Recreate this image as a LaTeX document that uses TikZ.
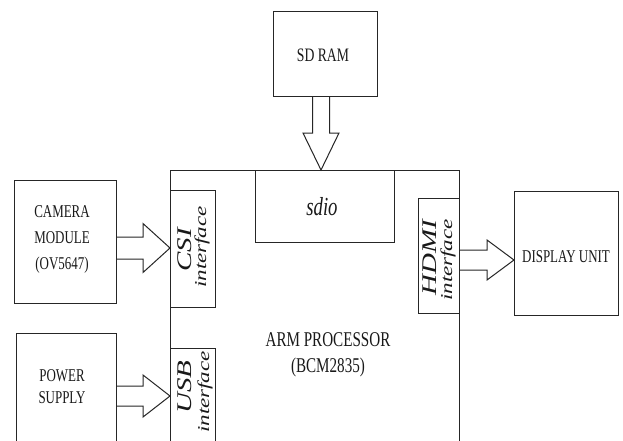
\documentclass[tikz,border=0pt]{standalone}
\usepackage{fontspec}
\setmainfont{Liberation Serif}
\usepackage{graphicx}
\usetikzlibrary{calc}
\newcommand{\hs}[1]{\scalebox{0.72}[1]{#1}}
\newcommand{\rs}[2]{\scalebox{1}[0.72]{\fontsize{#1}{#1}\selectfont\itshape #2}}
\tikzset{
  ln/.style={draw=black!85, line width=1pt, line join=miter},
  blk/.style={ln, fill=white, rectangle, inner sep=0pt, outer sep=0pt, anchor=north west},
  txt/.style={inner sep=0pt, align=center, text=black!90},
}
\begin{document}
\begin{tikzpicture}[x=1pt,y=-1pt]
\useasboundingbox (0,0) rectangle (623,441);
\fill[white] (0,0) rectangle (623,441);

% main processor box (bottom beyond page)
\node[blk, minimum width=289pt, minimum height=320pt] (arm) at (170,170) {};
% sub blocks
\node[blk, minimum width=139pt, minimum height=72pt, font=\fontsize{26}{26}\selectfont\itshape] (sdio) at (255,170) {};
\node[txt, font=\fontsize{26}{26}\selectfont\itshape] (sdiot) at (322,207) {\hs{sdio}};
\node[blk, minimum width=45pt, minimum height=117pt] (csi) at (170,190) {};
\node[blk, minimum width=45pt, minimum height=130pt] (usb) at (170,348) {};
\node[blk, minimum width=41pt, minimum height=115pt] (hdmi) at (418,198) {};

% outer blocks
\node[blk, minimum width=104pt, minimum height=85pt] (sdram) at (273,12) {};
\node[txt, font=\fontsize{19}{19}\selectfont] (sdramt) at (323,55) {\hs{SD RAM}};
\node[blk, minimum width=102pt, minimum height=123pt] (cam) at (14,180) {};
\node[txt, font=\fontsize{18}{26}\selectfont] (camt) at (62,239) {\hs{CAMERA}\\\hs{MODULE}\\\hs{(OV5647)}};
\node[blk, minimum width=100pt, minimum height=150pt] (pwr) at (16,333) {};
\node[txt, font=\fontsize{18}{22}\selectfont] (pwrt) at (62,387) {\hs{POWER}\\\hs{SUPPLY}};
\node[blk, minimum width=104pt, minimum height=124pt] (disp) at (514,191) {};
\node[txt, font=\fontsize{18}{18}\selectfont] (dispt) at (566,257) {\hs{DISPLAY UNIT}};

% processor label
\node[txt, font=\fontsize{21}{26}\selectfont] (armt) at (328,355) {\hs{ARM PROCESSOR}\\\hs{(BCM2835)}};

% rotated interface labels
\node[txt, rotate=90] (csiT) at (185,250) {\rs{29}{CSI}};
\node[txt, rotate=90] (csiI) at (202,247) {\rs{23}{interface}};
\node[txt, rotate=90] (hdmiT) at (430,258) {\rs{29}{HDMI}};
\node[txt, rotate=90] (hdmiI) at (448,260) {\rs{23}{interface}};
\node[txt, rotate=90] (usbT) at (185,387) {\rs{29}{USB}};
\node[txt, rotate=90] (usbI) at (205,392) {\rs{23}{interface}};

% block arrows
\coordinate (dt) at (arm.north -| 321,0);
\coordinate (dt) at (321,170);
\draw[ln] ($(dt)+(-8.5,-73)$) -- ($(dt)+(-8.5,-37)$) -- ($(dt)+(-18,-37)$) -- (dt)
  -- ($(dt)+(18,-37)$) -- ($(dt)+(8.5,-37)$) -- ($(dt)+(8.5,-73)$);

\coordinate (ct) at (170,248);
\draw[ln] ($(ct)+(-54,-11)$) -- ($(ct)+(-27,-11)$) -- ($(ct)+(-27,-24.5)$) -- (ct)
  -- ($(ct)+(-27,24.5)$) -- ($(ct)+(-27,11)$) -- ($(ct)+(-54,11)$);

\coordinate (pt) at (170,396);
\draw[ln] ($(pt)+(-54,-10)$) -- ($(pt)+(-27,-10)$) -- ($(pt)+(-27,-21)$) -- (pt)
  -- ($(pt)+(-27,21)$) -- ($(pt)+(-27,10)$) -- ($(pt)+(-54,10)$);

\coordinate (ht) at (514,260);
\draw[ln] ($(ht)+(-55,-10)$) -- ($(ht)+(-27,-10)$) -- ($(ht)+(-27,-20)$) -- (ht)
  -- ($(ht)+(-27,20)$) -- ($(ht)+(-27,10)$) -- ($(ht)+(-55,10)$);
\end{tikzpicture}
\end{document}
